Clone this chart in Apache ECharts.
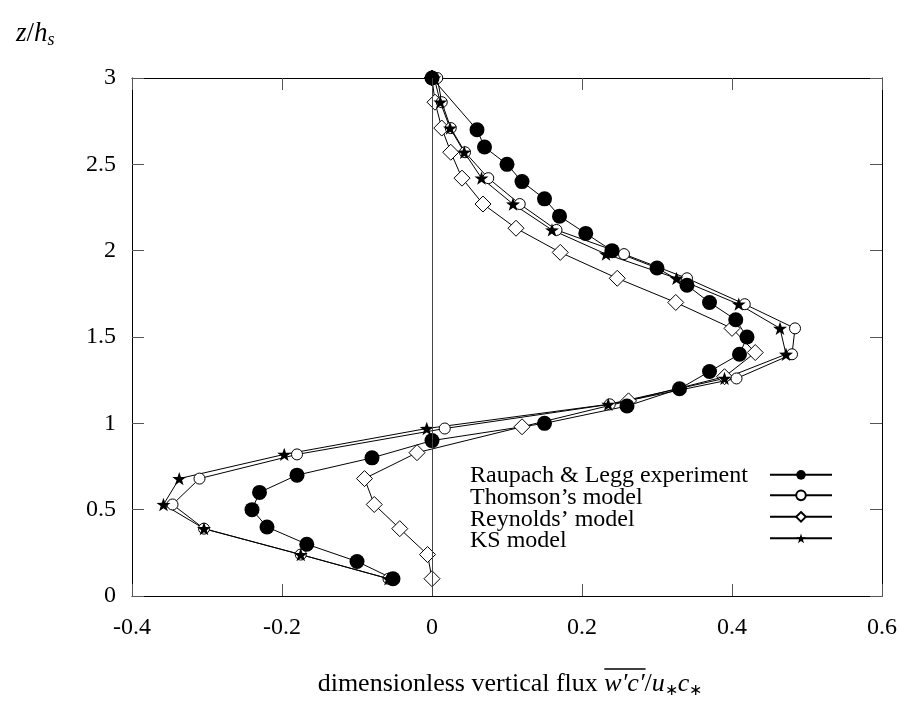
<!DOCTYPE html>
<html>
<head>
<meta charset="utf-8">
<script src="https://cdn.jsdelivr.net/npm/echarts@6/dist/echarts.min.js"></script>
<style>
html, body { margin: 0; padding: 0; background: #fff; }
#fluxChart { width: 901px; height: 702px; }
</style>
</head>
<body>
<div id="fluxChart"></div>
<script>
// Raupach & Legg wind tunnel data (z/h_s, flux)
const zExp = [3.0, 2.7, 2.6, 2.5, 2.4, 2.3, 2.2, 2.1, 2.0, 1.9, 1.8, 1.7, 1.6, 1.5, 1.4, 1.3, 1.2, 1.1, 1.0, 0.9, 0.8, 0.7, 0.6, 0.5, 0.4, 0.3, 0.2, 0.1]
const fluxExp = [0.0, 0.06, 0.07, 0.10, 0.12, 0.15, 0.17, 0.205, 0.24, 0.30, 0.34, 0.37, 0.405, 0.42, 0.41, 0.37, 0.33, 0.26, 0.15, 0.0, -0.08, -0.18, -0.23, -0.24, -0.22, -0.167, -0.10, -0.052]

// model levels (Thomson and KS)
const zModel = [3.0, 2.86, 2.71, 2.57, 2.42, 2.27, 2.12, 1.98, 1.84, 1.69, 1.55, 1.40, 1.26, 1.11, 0.97, 0.82, 0.68, 0.53, 0.39, 0.24, 0.10]
const fluxThomson = [0.007, 0.013, 0.025, 0.044, 0.075, 0.117, 0.166, 0.256, 0.34, 0.417, 0.484, 0.48, 0.406, 0.237, 0.017, -0.18, -0.31, -0.346, -0.304, -0.175, -0.058]
const fluxKS = [0.003, 0.011, 0.024, 0.043, 0.066, 0.108, 0.16, 0.232, 0.326, 0.409, 0.464, 0.472, 0.39, 0.235, -0.007, -0.197, -0.337, -0.358, -0.304, -0.175, -0.058]

// Reynolds' model
const zReynolds = [3.0, 2.86, 2.71, 2.57, 2.42, 2.27, 2.13, 1.99, 1.84, 1.70, 1.55, 1.41, 1.27, 1.13, 0.98, 0.83, 0.68, 0.53, 0.39, 0.24, 0.10]
const fluxReynolds = [0.0, 0.004, 0.013, 0.025, 0.04, 0.068, 0.112, 0.171, 0.247, 0.325, 0.40, 0.431, 0.39, 0.262, 0.12, -0.02, -0.09, -0.077, -0.043, -0.006, 0.0]

const seriesNames = ['Raupach & Legg experiment', 'Thomson’s model', 'Reynolds’ model', 'KS model']
const xRange = [-0.4, 0.6, 0.2]
const yRange = [0, 3, 0.5]

const FONT = '"Liberation Serif", "Times New Roman", serif'
const STAR = 'path://M0,-10 L2.35,-3.24 L9.51,-3.09 L3.8,1.24 L5.88,8.09 L0,4 L-5.88,8.09 L-3.8,1.24 L-9.51,-3.09 L-2.35,-3.24 Z'

function pairs (xs, zs) {
  return xs.map((v, i) => [v, zs[i]])
}

// measure text so the overline can sit over w'c'
const ctx = document.createElement('canvas').getContext('2d')
function textWidth (str, font) {
  ctx.font = font
  return ctx.measureText(str).width
}

const myChart = echarts.init(document.getElementById('fluxChart'))

const titleCx = 510
const titleCy = 684
const fNormal = '26px "Liberation Serif"'
const fItalic = 'italic 26px "Liberation Serif"'
const fSub = '16px "Liberation Serif"'
const preW = textWidth('dimensionless vertical flux ', fNormal)
const wcW = textWidth('w′c′', fItalic)
const totalW = preW + wcW + textWidth('/', fNormal) + textWidth('u', fItalic) + textWidth('c', fItalic) + textWidth('∗', fSub) * 2
const titleLeft = titleCx - totalW / 2

// legend rows
const legendTop = 464
const legendRow = 21.7

const xAxisBase = {
  type: 'value',
  min: xRange[0],
  max: xRange[1],
  interval: xRange[2],
  axisLine: { show: true, onZero: false, lineStyle: { color: '#000', width: 1 } },
  axisTick: { show: true, inside: true, length: 12, lineStyle: { color: '#555' } },
  splitLine: { show: false }
}
const yAxisBase = {
  type: 'value',
  min: yRange[0],
  max: yRange[1],
  interval: yRange[2],
  axisLine: { show: true, onZero: false, lineStyle: { color: '#000', width: 1 } },
  axisTick: { show: true, inside: true, length: 12, lineStyle: { color: '#555' } },
  splitLine: { show: false }
}
const labelStyle = { fontFamily: FONT, fontSize: 24, color: '#000' }

const option = {
  animation: false,
  backgroundColor: '#fff',
  grid: { left: 132, right: 19, top: 78, bottom: 106, containLabel: false, outerBoundsMode: 'none' },
  xAxis: [
    Object.assign({}, xAxisBase, { position: 'bottom', axisLabel: Object.assign({ margin: 20 }, labelStyle) }),
    Object.assign({}, xAxisBase, { position: 'top', axisLabel: { show: false } })
  ],
  yAxis: [
    Object.assign({}, yAxisBase, { position: 'left', axisLabel: Object.assign({ margin: 16 }, labelStyle) }),
    Object.assign({}, yAxisBase, { position: 'right', axisLabel: { show: false } })
  ],
  // icons only, the labels are a left-aligned text block below
  legend: {
    orient: 'vertical',
    right: 68,
    top: legendTop + legendRow / 2 - 6,
    align: 'right',
    padding: 0,
    itemGap: legendRow - 12,
    itemWidth: 62,
    itemHeight: 12,
    selectedMode: false,
    data: [seriesNames[0], seriesNames[1], seriesNames[2], seriesNames[3]],
    formatter: () => ''
  },
  graphic: [
    {
      type: 'text',
      left: 16,
      top: 20,
      style: {
        text: '{i|z}{n|/}{i|h}{s|s}',
        rich: {
          i: { fontFamily: FONT, fontStyle: 'italic', fontSize: 27, lineHeight: 32, color: '#000' },
          n: { fontFamily: FONT, fontSize: 27, lineHeight: 32, color: '#000' },
          s: { fontFamily: FONT, fontStyle: 'italic', fontSize: 18, lineHeight: 18, verticalAlign: 'bottom', color: '#000' }
        }
      }
    },
    {
      type: 'text',
      left: 470,
      top: legendTop,
      style: {
        text: seriesNames.join('\n'),
        fontFamily: FONT,
        fontSize: 24,
        lineHeight: legendRow,
        fill: '#000'
      }
    },
    {
      type: 'text',
      x: titleCx,
      y: titleCy,
      style: {
        text: '{n|dimensionless vertical flux }{i|w′c′}{n|/}{i|u}{s|∗}{i|c}{s|∗}',
        align: 'center',
        verticalAlign: 'middle',
        rich: {
          n: { fontFamily: FONT, fontSize: 26, lineHeight: 30, color: '#000' },
          i: { fontFamily: FONT, fontStyle: 'italic', fontSize: 26, lineHeight: 30, color: '#000' },
          s: { fontFamily: FONT, fontSize: 16, lineHeight: 16, verticalAlign: 'bottom', color: '#000' }
        }
      }
    },
    {
      type: 'line',
      shape: { x1: titleLeft + preW, y1: titleCy - 15, x2: titleLeft + preW + wcW + 1, y2: titleCy - 15 },
      style: { stroke: '#000', lineWidth: 1.5 }
    }
  ],
  series: [
    {
      name: seriesNames[2],
      type: 'line',
      data: pairs(fluxReynolds, zReynolds),
      symbol: 'diamond',
      symbolSize: 16,
      lineStyle: { color: '#000', width: 1 },
      itemStyle: { color: '#fff', borderColor: '#000', borderWidth: 1 },
      emphasis: { disabled: true },
      markLine: {
        silent: true,
        symbol: 'none',
        label: { show: false },
        lineStyle: { color: '#444', type: 'solid', width: 1 },
        data: [{ xAxis: 0 }]
      }
    },
    {
      name: seriesNames[1],
      type: 'line',
      data: pairs(fluxThomson, zModel),
      symbol: 'circle',
      symbolSize: 11,
      lineStyle: { color: '#000', width: 1 },
      itemStyle: { color: '#fff', borderColor: '#000', borderWidth: 1 },
      emphasis: { disabled: true }
    },
    {
      name: seriesNames[3],
      type: 'line',
      data: pairs(fluxKS, zModel),
      symbol: STAR,
      symbolKeepAspect: true,
      symbolSize: 14,
      lineStyle: { color: '#000', width: 1 },
      itemStyle: { color: '#000' },
      emphasis: { disabled: true }
    },
    {
      name: seriesNames[0],
      type: 'line',
      data: pairs(fluxExp, zExp),
      symbol: 'circle',
      symbolSize: 15,
      lineStyle: { color: '#000', width: 1 },
      itemStyle: { color: '#000' },
      emphasis: { disabled: true }
    }
  ]
}

myChart.setOption(option)
</script>
</body>
</html>
